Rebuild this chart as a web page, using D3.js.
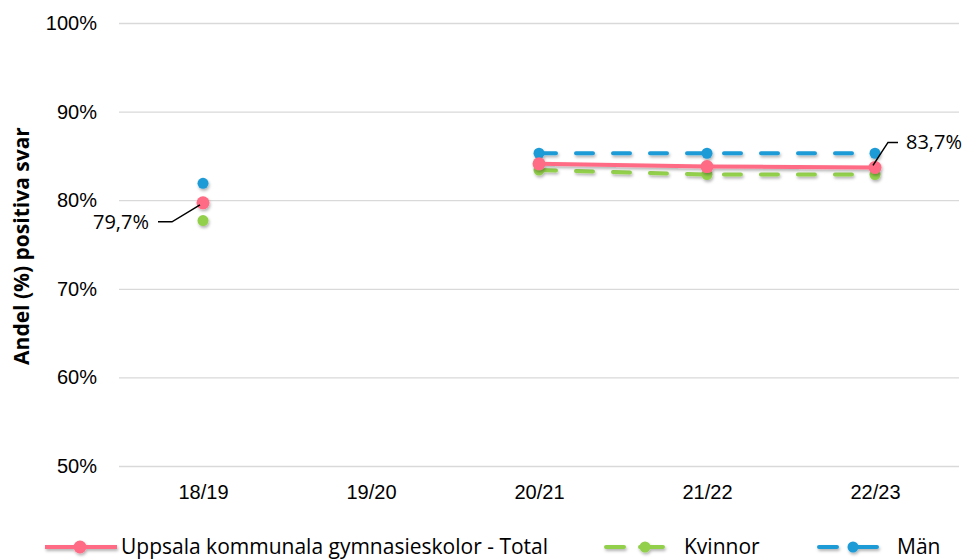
<!DOCTYPE html>
<html>
<head>
<meta charset="utf-8">
<script src="https://cdn.jsdelivr.net/npm/d3@7"></script>
<style>
  body { margin: 0; background: #fff; }
  svg { font-family: "Open Sans", sans-serif; }
</style>
</head>
<body>
<svg width="971" height="560"></svg>
<script>
const svg = d3.select('svg');

const years = ['18/19', '19/20', '20/21', '21/22', '22/23'];
const total = [79.7, null, 84.1, 83.8, 83.7];
const kvinnor = [77.7, null, 83.4, 82.9, 82.9];
const man = [81.9, null, 85.3, 85.3, 85.3];
const yTicks = [50, 60, 70, 80, 90, 100];

const series = [
  { name: 'Uppsala kommunala gymnasieskolor - Total', values: total, color: '#FF6B84', dash: null },
  { name: 'Kvinnor', values: kvinnor, color: '#92CF4B', dash: '17,20' },
  { name: 'Män', values: man, color: '#1E9BD7', dash: '17,20' }
];

const margin = { top: 23, right: 12, bottom: 94, left: 119 };
const width = 971, height = 560;
const innerWidth = width - margin.left - margin.right;
const innerHeight = height - margin.top - margin.bottom;
const fs = 20;

const defs = svg.append('defs');
const shadow = defs.append('filter').attr('id', 'shadow')
  .attr('x', '-20%').attr('y', '-50%').attr('width', '140%').attr('height', '200%');
shadow.append('feDropShadow')
  .attr('dx', 1).attr('dy', 2).attr('stdDeviation', 1.5)
  .attr('flood-color', '#000').attr('flood-opacity', 0.3);

const g = svg.append('g').attr('transform', `translate(${margin.left},${margin.top})`);

const x = d3.scalePoint().domain(years).range([0, innerWidth]).padding(0.5);
const y = d3.scaleLinear().domain([50, 100]).range([innerHeight, 0]);

// grid + y axis
const yAxisG = g.append('g').call(d3.axisLeft(y).tickValues(yTicks)
  .tickFormat(d => d + '%').tickSize(-innerWidth).tickPadding(22));
yAxisG.select('.domain').remove();
yAxisG.selectAll('line').attr('stroke', '#d9d9d9').attr('stroke-width', 1.3);
yAxisG.selectAll('text').attr('font-size', fs).attr('fill', '#000');

const xAxisG = g.append('g').attr('transform', `translate(0,${innerHeight})`)
  .call(d3.axisBottom(x).tickSize(0).tickPadding(19));
xAxisG.select('.domain').remove();
xAxisG.selectAll('text').attr('font-size', fs).attr('fill', '#000');

g.append('text')
  .attr('transform', `translate(${29 - margin.left},${246 - margin.top})rotate(-90)`)
  .attr('text-anchor', 'middle')
  .attr('font-size', 21).attr('font-weight', 'bold')
  .text('Andel (%) positiva svar');

// lines, Total drawn last so it sits on top
const line = d3.line().defined(d => d[1] != null).x(d => x(d[0])).y(d => y(d[1]));
[series[2], series[1], series[0]].forEach(s => {
  const pts = years.map((yr, i) => [yr, s.values[i]]);
  const sg = g.append('g').attr('filter', 'url(#shadow)');
  sg.append('path').datum(pts)
    .attr('d', line).attr('fill', 'none')
    .attr('stroke', s.color).attr('stroke-width', 4)
    .attr('stroke-linecap', s.dash ? 'round' : null)
    .attr('stroke-dasharray', s.dash);
  sg.selectAll('circle').data(pts.filter(d => d[1] != null)).enter()
    .append('circle')
    .attr('cx', d => x(d[0])).attr('cy', d => y(d[1]))
    .attr('r', s.dash ? 5.5 : 6.5)
    .attr('fill', s.color);
});

// data labels
const lab = g.append('g');
const p0 = [x(years[0]), y(total[0])];
lab.append('path')
  .attr('d', `M${p0[0] - 3},${p0[1] + 2}L${p0[0] - 31},${p0[1] + 19}L${p0[0] - 45},${p0[1] + 19}`)
  .attr('fill', 'none').attr('stroke', '#000').attr('stroke-width', 1.5);
lab.append('text').attr('x', p0[0] - 54).attr('y', p0[1] + 26)
  .attr('text-anchor', 'end').attr('font-size', fs).text('79,7%');

const p4 = [x(years[4]), y(total[4])];
lab.append('path')
  .attr('d', `M${p4[0] - 2},${p4[1] - 2}L${p4[0] + 13},${p4[1] - 25}L${p4[0] + 23},${p4[1] - 25}`)
  .attr('fill', 'none').attr('stroke', '#000').attr('stroke-width', 1.5);
lab.append('text').attr('x', p4[0] + 31).attr('y', p4[1] - 18)
  .attr('font-size', fs).text('83,7%');

// legend
const legend = svg.append('g').attr('transform', 'translate(0,547)');
const legendPos = [
  { x1: 45, x2: 117, cx: 80, tx: 121 },
  { x1: 606, x2: 663, cx: 645, tx: 684 },
  { x1: 819, x2: 877, cx: 853, tx: 897 }
];
series.forEach((s, i) => {
  const p = legendPos[i];
  const lg = legend.append('g').attr('filter', 'url(#shadow)');
  lg.append('line').attr('x1', p.x1).attr('x2', p.x2)
    .attr('stroke', s.color).attr('stroke-width', 4)
    .attr('stroke-linecap', s.dash ? 'round' : null)
    .attr('stroke-dasharray', s.dash ? '18,16,40' : null);
  lg.append('circle').attr('cx', p.cx).attr('cy', 0)
    .attr('r', s.dash ? 5.5 : 6.5).attr('fill', s.color);
  legend.append('text').attr('x', p.tx).attr('y', 7)
    .attr('font-size', 21).text(s.name);
});
</script>
</body>
</html>
